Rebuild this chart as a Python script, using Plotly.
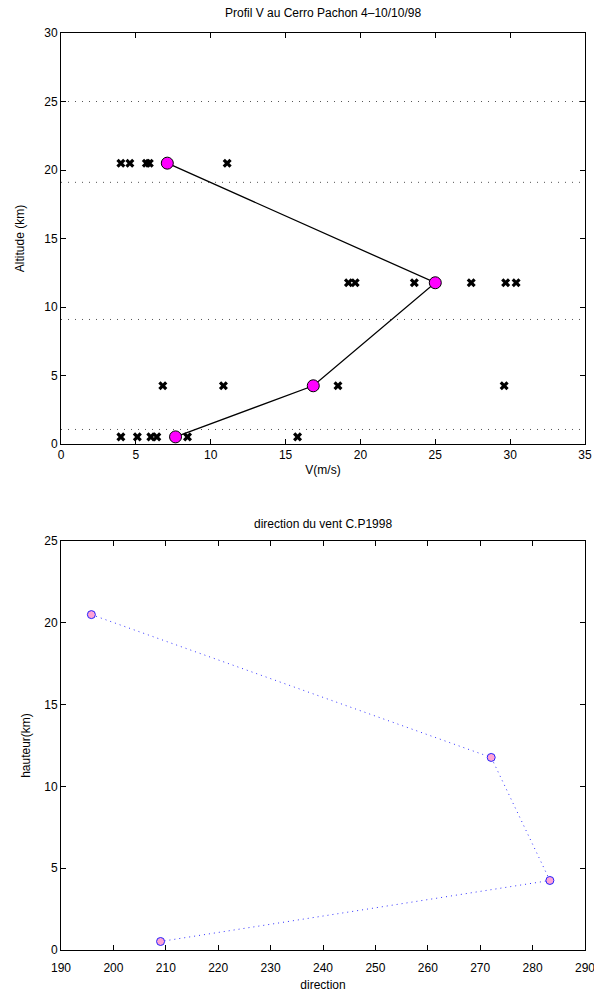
import plotly.graph_objects as go

# ---- data: top panel (wind speed profile) ----
alt_levels = [0.52, 4.25, 11.77, 20.5]
speed_mean = [7.65, 16.85, 25.0, 7.1]

obs_alt = ([20.5] * 5) + ([11.77] * 6) + ([4.25] * 4) + ([0.52] * 6)
obs_speed = [4.0, 4.6, 5.7, 5.9, 11.1,
             19.2, 19.65, 23.6, 27.4, 29.7, 30.4,
             6.8, 10.85, 18.5, 29.6,
             4.0, 5.1, 6.0, 6.4, 8.45, 15.8]

layer_bounds = [1.06, 9.09, 19.1, 25.0]

# ---- data: bottom panel (wind direction) ----
dir_alt = [20.5, 11.77, 4.25, 0.52]
direction = [195.8, 272.1, 283.3, 209.0]

W, H = 594, 998
FONT = "Liberation Sans, Arial, sans-serif"


def px_x(p):
    return p / W


def px_y(p):
    return 1 - p / H


fig = go.Figure()

# dotted layer boundaries
for yb in layer_bounds:
    fig.add_trace(go.Scatter(x=[0, 35], y=[yb, yb], mode="lines",
                             line=dict(color="#555555", width=1, dash="1px,6px"),
                             xaxis="x", yaxis="y", showlegend=False, hoverinfo="skip"))

fig.add_trace(go.Scatter(x=obs_speed, y=obs_alt, mode="markers",
                         marker=dict(symbol="x", size=8, color="black",
                                     line=dict(width=0)),
                         xaxis="x", yaxis="y", showlegend=False))

fig.add_trace(go.Scatter(x=speed_mean, y=alt_levels, mode="lines+markers",
                         line=dict(color="black", width=1.3),
                         marker=dict(symbol="circle", size=12, color="#ff00ff",
                                     line=dict(color="black", width=1)),
                         xaxis="x", yaxis="y", showlegend=False))

fig.add_trace(go.Scatter(x=direction, y=dir_alt, mode="lines+markers",
                         line=dict(color="#3333ff", width=1, dash="1px,4px"),
                         marker=dict(symbol="circle", size=8, color="#ffa3d4",
                                     line=dict(color="#2222ff", width=1)),
                         xaxis="x2", yaxis="y2", showlegend=False))

xdom = [px_x(61), px_x(585)]
axis_common = dict(showline=True, linecolor="black", linewidth=1, mirror="ticks",
                   ticks="inside", ticklen=5, tickcolor="black", showgrid=False,
                   zeroline=False, automargin=False, ticklabeloverflow="allow",
                   tickfont=dict(family=FONT, size=12, color="black"))

fig.update_layout(
    width=W, height=H,
    margin=dict(l=0, r=0, t=0, b=0),
    paper_bgcolor="white", plot_bgcolor="white",
    font=dict(family=FONT, color="black"),
    xaxis=dict(domain=xdom, range=[0, 35], tickvals=[0, 5, 10, 15, 20, 25, 30, 35],
               anchor="y", title=dict(text="V(m/s)", font=dict(size=12), standoff=4),
               **axis_common),
    yaxis=dict(domain=[px_y(444), px_y(33)], range=[0, 30],
               tickvals=[0, 5, 10, 15, 20, 25, 30], anchor="x",
               title=dict(text="Altitude (km)", font=dict(size=12), standoff=17),
               **axis_common),
    xaxis2=dict(domain=xdom, range=[190, 290],
                tickvals=list(range(190, 291, 10)), anchor="y2",
                ticklabelstandoff=7,
                title=dict(text="direction", font=dict(size=12), standoff=6),
                **axis_common),
    yaxis2=dict(domain=[px_y(950), px_y(541)], range=[0, 25],
                tickvals=[0, 5, 10, 15, 20, 25], anchor="x2",
                title=dict(text="hauteur(km)", font=dict(size=12), standoff=11),
                **axis_common),
    annotations=[
        dict(text="Profil V au Cerro Pachon 4\u201310/10/98", x=(xdom[0] + xdom[1]) / 2,
             y=px_y(13), xref="paper", yref="paper", showarrow=False,
             font=dict(size=12, family=FONT), xanchor="center", yanchor="middle"),
        dict(text="direction du vent C.P1998", x=(xdom[0] + xdom[1]) / 2,
             y=px_y(524), xref="paper", yref="paper", showarrow=False,
             font=dict(size=12, family=FONT), xanchor="center", yanchor="middle"),
    ],
)

fig.write_html("out.html",
               config={"displayModeBar": False},
               post_script="document.body.style.margin='0';"
                           "document.body.style.overflow='hidden';")
